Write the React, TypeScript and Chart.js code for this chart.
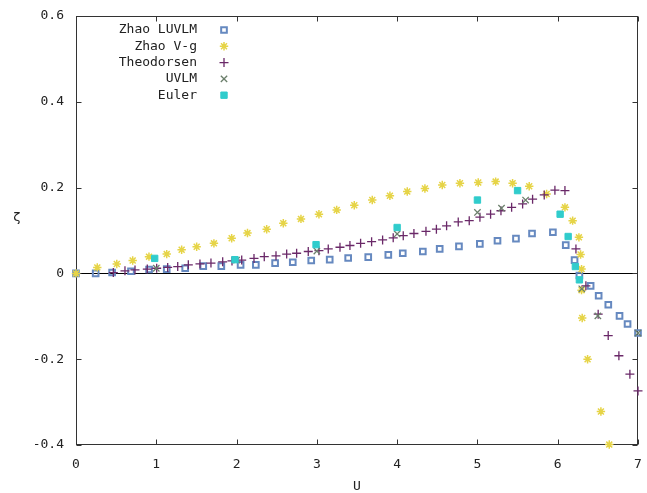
import React, { useEffect, useRef } from 'react';
import { Chart, registerables } from 'chart.js';
import { drawPoint } from 'chart.js/helpers';

Chart.register(...registerables);

// Axis ticks
const uTicks = [0, 1, 2, 3, 4, 5, 6, 7];
const zetaTicks = [-0.4, -0.2, 0, 0.2, 0.4, 0.6];

// Zhao LUVLM
const luvlmU = [0, 0.245, 0.45, 0.685, 0.91, 1.13, 1.36, 1.585, 1.81, 2.05, 2.24, 2.48, 2.7, 2.93, 3.16, 3.39, 3.64, 3.89, 4.07, 4.32, 4.53, 4.77, 5.03, 5.25, 5.48, 5.68, 5.94, 6.1, 6.21, 6.27, 6.41, 6.51, 6.63, 6.77, 6.87, 7.0];
const luvlmZeta = [0, 0, 0.002, 0.005, 0.009, 0.01, 0.012, 0.017, 0.017, 0.02, 0.02, 0.024, 0.026, 0.03, 0.032, 0.036, 0.038, 0.043, 0.047, 0.051, 0.057, 0.063, 0.069, 0.076, 0.081, 0.093, 0.096, 0.066, 0.031, -0.005, -0.029, -0.052, -0.073, -0.099, -0.118, -0.139];

// Zhao V-g
const vgU = [0, 0.265, 0.508, 0.706, 0.909, 1.13, 1.316, 1.503, 1.718, 1.939, 2.136, 2.375, 2.582, 2.802, 3.026, 3.247, 3.466, 3.69, 3.91, 4.126, 4.346, 4.562, 4.782, 5.01, 5.227, 5.438, 5.645, 5.862, 6.09, 6.186, 6.264, 6.285, 6.297, 6.297, 6.305, 6.372, 6.538, 6.642];
const vgZeta = [0, 0.014, 0.022, 0.03, 0.039, 0.045, 0.055, 0.062, 0.07, 0.082, 0.094, 0.103, 0.117, 0.127, 0.138, 0.148, 0.159, 0.171, 0.181, 0.191, 0.198, 0.206, 0.21, 0.212, 0.214, 0.21, 0.203, 0.185, 0.154, 0.123, 0.084, 0.044, 0.01, -0.039, -0.104, -0.2, -0.322, -0.399];

// Theodorsen
const theoU = [0.465, 0.61, 0.735, 0.888, 1.005, 1.142, 1.267, 1.399, 1.544, 1.681, 1.827, 1.943, 2.064, 2.217, 2.345, 2.491, 2.624, 2.748, 2.893, 3.026, 3.142, 3.288, 3.412, 3.545, 3.682, 3.819, 3.951, 4.076, 4.209, 4.359, 4.489, 4.616, 4.761, 4.898, 5.031, 5.164, 5.293, 5.426, 5.563, 5.687, 5.832, 5.965, 6.09, 6.227, 6.351, 6.504, 6.629, 6.762, 6.899, 7.0];
const theoZeta = [0.002, 0.006, 0.008, 0.01, 0.012, 0.014, 0.016, 0.02, 0.022, 0.024, 0.027, 0.029, 0.031, 0.035, 0.039, 0.041, 0.045, 0.047, 0.051, 0.053, 0.057, 0.061, 0.065, 0.07, 0.074, 0.078, 0.083, 0.088, 0.093, 0.098, 0.103, 0.111, 0.12, 0.123, 0.131, 0.138, 0.146, 0.154, 0.162, 0.173, 0.183, 0.194, 0.193, 0.057, -0.029, -0.095, -0.145, -0.192, -0.235, -0.274];

// UVLM
const uvlmU = [1.0, 2.0, 3.0, 4.0, 5.0, 5.3, 5.6, 6.3, 6.5, 7.0];
const uvlmZeta = [0.012, 0.031, 0.052, 0.092, 0.142, 0.152, 0.171, -0.036, -0.099, -0.139];

// Euler
const eulerU = [0.98, 1.98, 2.99, 4.0, 5.0, 5.5, 6.03, 6.13, 6.22, 6.27];
const eulerZeta = [0.035, 0.032, 0.067, 0.107, 0.171, 0.193, 0.138, 0.086, 0.016, -0.015];

const FONT = "'DejaVu Sans Mono', monospace";
const TEXT = '#222';

const pairs = (xs: number[], ys: number[]) => xs.map((x, i) => ({ x, y: ys[i] }));

const framePlugin = {
  id: 'gnuFrame',
  beforeDatasetsDraw(chart: any) {
    const { ctx, chartArea, scales } = chart;
    const { left, right, top, bottom } = chartArea;
    const xs = scales.x;
    const ys = scales.y;
    ctx.save();
    ctx.lineWidth = 1;
    // zero axis
    const y0 = Math.round(ys.getPixelForValue(0)) + 0.5;
    ctx.strokeStyle = '#000';
    ctx.beginPath();
    ctx.moveTo(left, y0);
    ctx.lineTo(right, y0);
    ctx.stroke();
    // border
    ctx.strokeStyle = '#333';
    const l = Math.round(left) + 0.5;
    const r = Math.round(right) - 0.5;
    const t = Math.round(top) + 0.5;
    const b = Math.round(bottom) - 0.5;
    ctx.strokeRect(l, t, r - l, b - t);
    // inward ticks on all four sides
    const len = 5;
    ctx.beginPath();
    uTicks.forEach((v) => {
      const px = Math.round(xs.getPixelForValue(v)) + 0.5;
      ctx.moveTo(px, b);
      ctx.lineTo(px, b - len);
      ctx.moveTo(px, t);
      ctx.lineTo(px, t + len);
    });
    zetaTicks.forEach((v) => {
      const py = Math.round(ys.getPixelForValue(v)) + 0.5;
      ctx.moveTo(l, py);
      ctx.lineTo(l + len, py);
      ctx.moveTo(r, py);
      ctx.lineTo(r - len, py);
    });
    ctx.stroke();
    ctx.restore();
  },
  afterDraw(chart: any) {
    const { ctx } = chart;
    ctx.save();
    // y axis label
    ctx.fillStyle = TEXT;
    ctx.font = `13px ${FONT}`;
    ctx.textAlign = 'center';
    ctx.textBaseline = 'middle';
    ctx.fillText('ζ', 17, 218);
    // key: right-justified text followed by the point sample
    const textRight = 197;
    const sampleX = 224;
    const rowTop = 30;
    const rowStep = 16.3;
    chart.data.datasets.forEach((ds: any, i: number) => {
      const yy = rowTop + i * rowStep;
      ctx.fillStyle = TEXT;
      ctx.textAlign = 'right';
      ctx.textBaseline = 'middle';
      ctx.fillText(ds.label, textRight, yy);
      ctx.strokeStyle = ds.pointBorderColor;
      ctx.fillStyle = ds.pointBackgroundColor;
      ctx.lineWidth = ds.pointBorderWidth;
      drawPoint(ctx, { pointStyle: ds.pointStyle, radius: ds.pointRadius, borderWidth: ds.pointBorderWidth, rotation: 0 }, sampleX, yy);
    });
    ctx.restore();
  },
};

export default function App() {
  const canvasRef = useRef<HTMLCanvasElement | null>(null);

  useEffect(() => {
    const canvas = canvasRef.current;
    if (!canvas) return;
    const chart = new Chart(canvas, {
      type: 'scatter',
      data: {
        datasets: [
          {
            label: 'Zhao LUVLM',
            data: pairs(luvlmU, luvlmZeta),
            pointStyle: 'rect',
            pointRadius: 4,
            pointBorderWidth: 2,
            pointBorderColor: '#6689c0',
            pointBackgroundColor: 'rgba(0,0,0,0)',
            clip: false,
            order: 5,
          },
          {
            label: 'Zhao V-g',
            data: pairs(vgU, vgZeta),
            pointStyle: 'star',
            pointRadius: 4.2,
            pointBorderWidth: 1.5,
            pointBorderColor: '#e6d447',
            pointBackgroundColor: '#e6d447',
            clip: false,
            order: 4,
          },
          {
            label: 'Theodorsen',
            data: pairs(theoU, theoZeta),
            pointStyle: 'cross',
            pointRadius: 4.5,
            pointBorderWidth: 1.3,
            pointBorderColor: '#6a2868',
            pointBackgroundColor: '#6a2868',
            clip: false,
            order: 3,
          },
          {
            label: 'UVLM',
            data: pairs(uvlmU, uvlmZeta),
            pointStyle: 'crossRot',
            pointRadius: 4.5,
            pointBorderWidth: 1.3,
            pointBorderColor: '#6b7f6b',
            pointBackgroundColor: '#6b7f6b',
            clip: false,
            order: 2,
          },
          {
            label: 'Euler',
            data: pairs(eulerU, eulerZeta),
            pointStyle: 'rect',
            pointRadius: 4.5,
            pointBorderWidth: 1,
            pointBorderColor: '#30cccc',
            pointBackgroundColor: '#30cccc',
            clip: false,
            order: 1,
          },
        ],
      },
      options: {
        animation: false,
        responsive: false,
        devicePixelRatio: 1,
        layout: { padding: { top: 16, right: 9, left: 0, bottom: 0 } },
        plugins: {
          legend: { display: false },
          tooltip: { enabled: false },
        },
        events: [],
        scales: {
          x: {
            type: 'linear',
            min: 0,
            max: 7,
            grid: { display: false, drawTicks: false },
            border: { display: false },
            afterBuildTicks: (scale: any) => {
              scale.ticks = uTicks.map((v) => ({ value: v }));
            },
            afterFit: (scale: any) => {
              scale.height = 48;
              scale.paddingLeft = 0;
              scale.paddingRight = 0;
            },
            ticks: {
              padding: 12,
              color: TEXT,
              font: { family: FONT, size: 13 },
              callback: (v: any) => String(v),
            },
            title: {
              display: true,
              text: 'U',
              color: TEXT,
              font: { family: FONT, size: 13, lineHeight: 1 },
              padding: { top: 0, bottom: 0 },
            },
          },
          y: {
            type: 'linear',
            min: -0.4,
            max: 0.6,
            grid: { display: false, drawTicks: false },
            border: { display: false },
            afterBuildTicks: (scale: any) => {
              scale.ticks = zetaTicks.map((v) => ({ value: v }));
            },
            afterFit: (scale: any) => {
              scale.width = 76;
              scale.paddingTop = 0;
              scale.paddingBottom = 0;
            },
            ticks: {
              padding: 12,
              color: TEXT,
              font: { family: FONT, size: 13 },
              callback: (v: any) => String(Math.round(v * 10) / 10),
            },
          },
        },
      },
      plugins: [framePlugin],
    });
    return () => chart.destroy();
  }, []);

  return (
    <div style={{ position: 'absolute', left: 0, top: 0, width: 647, height: 493, background: '#fff' }}>
      <canvas ref={canvasRef} width={647} height={493} style={{ display: 'block' }} />
    </div>
  );
}
